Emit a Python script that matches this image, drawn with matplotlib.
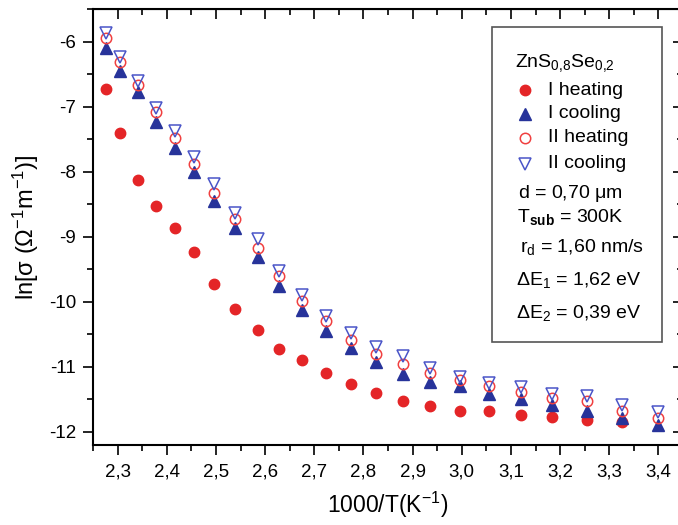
import matplotlib
matplotlib.use("Agg")
import matplotlib.pyplot as plt
from matplotlib.ticker import MultipleLocator, FuncFormatter
from matplotlib.lines import Line2D
from matplotlib.patches import Rectangle

plt.rcParams['font.family'] = ['Liberation Sans', 'DejaVu Sans']
plt.rcParams['mathtext.fontset'] = 'custom'
plt.rcParams['mathtext.rm'] = 'Liberation Sans'
plt.rcParams['mathtext.it'] = 'Liberation Sans'
plt.rcParams['mathtext.bf'] = 'Liberation Sans:bold'
plt.rcParams['mathtext.sf'] = 'Liberation Sans'
plt.rcParams['axes.unicode_minus'] = False

# inverse temperature 1000/T (K^-1)
x_all = [2.276, 2.305, 2.341, 2.379, 2.417, 2.456, 2.496, 2.538, 2.586, 2.628,
         2.675, 2.723, 2.774, 2.826, 2.880, 2.936, 2.997, 3.056, 3.121, 3.184,
         3.255, 3.326, 3.400]
# ln(sigma) series
i_heating = [-6.73, -7.41, -8.13, -8.52, -8.87, -9.24, -9.73, -10.11, -10.43, -10.73,
             -10.89, -11.10, -11.27, -11.40, -11.53, -11.60, -11.67, -11.67, -11.74,
             -11.77, -11.81, -11.84]
i_cooling = [-6.10, -6.45, -6.78, -7.23, -7.63, -8.00, -8.45, -8.87, -9.31, -9.76,
             -10.13, -10.45, -10.71, -10.93, -11.11, -11.23, -11.30, -11.41, -11.50,
             -11.59, -11.67, -11.79, -11.89]
ii_heating = [-5.95, -6.31, -6.67, -7.08, -7.48, -7.88, -8.32, -8.73, -9.17, -9.61,
              -9.99, -10.30, -10.58, -10.80, -10.96, -11.10, -11.20, -11.30, -11.38,
              -11.48, -11.53, -11.68, -11.79]
ii_cooling = [-5.87, -6.24, -6.60, -7.02, -7.38, -7.77, -8.19, -8.63, -9.04, -9.52,
              -9.89, -10.22, -10.48, -10.69, -10.84, -11.01, -11.15, -11.25, -11.31,
              -11.41, -11.45, -11.59, -11.69]

series_labels = ['I heating', 'I cooling', 'II heating', 'II cooling']
info_lines = [r'd = 0,70 $\mu$m', r'T$_{\mathbf{sub}}$ = 300K', r'r$_{\mathrm{d}}$ = 1,60 nm/s',
              r'$\Delta$E$_{1}$ = 1,62 eV', r'$\Delta$E$_{2}$ = 0,39 eV']
title_text = r'ZnS$_{0{,}8}$Se$_{0{,}2}$'

RED = '#e42527'
BLUE = '#27339a'
LBLUE = '#4a55c8'

W, H = 678, 525
fig = plt.figure(figsize=(W / 100, H / 100), dpi=100)
ax = fig.add_axes([93 / W, 1 - 445 / H, 590 / W, 436 / H])

ax.plot(x_all[:len(i_heating)], i_heating, 'o', ms=7.5, color=RED, mec=RED, zorder=3)
ax.plot(x_all, i_cooling, '^', ms=8.5, color=BLUE, mec=BLUE, zorder=4)
ax.plot(x_all, ii_heating, 'o', ms=7.5, mfc='none', mec='#f04040', mew=1.1, zorder=5)
ax.plot(x_all, ii_cooling, 'v', ms=9, mfc='none', mec=LBLUE, mew=1.1, zorder=6)

ax.set_xlim(2.25, 3.45)
ax.set_ylim(-12.2, -5.5)
ax.xaxis.set_major_locator(MultipleLocator(0.1))
ax.xaxis.set_minor_locator(MultipleLocator(0.05))
ax.yaxis.set_major_locator(MultipleLocator(1))
ax.yaxis.set_minor_locator(MultipleLocator(0.5))
ax.xaxis.set_major_formatter(FuncFormatter(lambda v, p: f'{v:.1f}'.replace('.', ',')))
ax.yaxis.set_major_formatter(FuncFormatter(lambda v, p: f'{v:.0f}'))

for sp in ax.spines.values():
    sp.set_linewidth(1.5)

ax.tick_params(axis='both', which='major', length=7, width=1.2, labelsize=13.5)
ax.tick_params(axis='both', which='minor', length=4, width=1.2)
ax.tick_params(axis='x', which='both', bottom=True, top=False, direction='out', pad=6)
ax.tick_params(axis='y', which='both', left=True, right=False, direction='out', pad=5)

# inward ticks on top and right
ax2 = ax.secondary_xaxis('top')
ax2.xaxis.set_major_locator(MultipleLocator(0.1))
ax2.xaxis.set_minor_locator(MultipleLocator(0.05))
ax2.tick_params(which='major', direction='in', length=7, width=1.2, labeltop=False)
ax2.tick_params(which='minor', direction='in', length=4, width=1.2)
ax2.set_xticklabels([])
ay2 = ax.secondary_yaxis('right')
ay2.yaxis.set_major_locator(MultipleLocator(1))
ay2.yaxis.set_minor_locator(MultipleLocator(0.5))
ay2.tick_params(which='major', direction='in', length=7, width=1.2, labelright=False)
ay2.tick_params(which='minor', direction='in', length=4, width=1.2)
ay2.set_yticklabels([])

ax.set_xlabel(r'1000/T(K$^{-1}$)', fontsize=16.5, labelpad=7)
ax.set_ylabel(r'ln[$\sigma$ ($\Omega^{-1}$m$^{-1}$)]', fontsize=17, labelpad=6)

# legend box
fig.add_artist(Rectangle((492 / W, 1 - 342 / H), 170 / W, 315 / H, transform=fig.transFigure,
                         fill=False, edgecolor='#555555', linewidth=1.2))
FS = 14
fig.text(515 / W, 1 - 63 / H, title_text, fontsize=FS, va='center', ha='left')
styles = [dict(marker='o', ms=7.5, color=RED, mec=RED, ls='none'),
          dict(marker='^', ms=8.5, color=BLUE, mec=BLUE, ls='none'),
          dict(marker='o', ms=7.5, mfc='none', mec='#f04040', mew=1.1, ls='none'),
          dict(marker='v', ms=9, mfc='none', mec=LBLUE, mew=1.1, ls='none')]
ys = [90, 114, 138, 164]
for lab, st, yy in zip(series_labels, styles, ys):
    fig.add_artist(Line2D([525 / W], [1 - yy / H], transform=fig.transFigure, **st))
    fig.text(548 / W, 1 - yy / H, lab, fontsize=FS, va='center', ha='left')
info_y = [193, 217, 247, 280, 313]
info_x = [518, 517, 520, 516, 516]
for t, yy, xx in zip(info_lines, info_y, info_x):
    fig.text(xx / W, 1 - yy / H, t, fontsize=FS, va='center', ha='left')

fig.savefig('out.png', dpi=100)
